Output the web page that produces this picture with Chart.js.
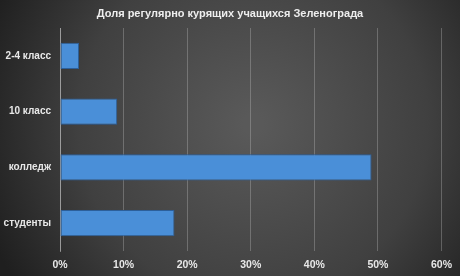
<!DOCTYPE html>
<html>
<head>
<meta charset="utf-8">
<script src="https://cdn.jsdelivr.net/npm/chart.js@4"></script>
<style>
html, body { margin: 0; padding: 0; background: #2b2b2b; }
#wrap { width: 460px; height: 276px; }
</style>
</head>
<body>
<div id="wrap"><canvas id="graph"></canvas></div>
<script>
var labels_groupes = ["2-4 класс", "10 класс", "колледж", "студенты"];
var valeurs = [3, 9, 49, 18];
var ticks_x = [0, 10, 20, 30, 40, 50, 60];
var titre = "Доля регулярно курящих учащихся Зеленограда";

// fond en dégradé radial
var fond = {
    id: "fond",
    beforeDraw: function(chart) {
        var c = chart.ctx;
        var w = chart.width, h = chart.height;
        var g = c.createRadialGradient(w * 0.55, h * 0.45, 10, w * 0.55, h * 0.45, w * 0.62);
        g.addColorStop(0, "#595959");
        g.addColorStop(0.6, "#404040");
        g.addColorStop(1, "#1f1f1f");
        c.save();
        c.fillStyle = g;
        c.fillRect(0, 0, w, h);
        c.restore();
    }
};

// titre centré sur toute la largeur du canvas
var titrePlugin = {
    id: "titrePlugin",
    afterDraw: function(chart) {
        var c = chart.ctx;
        c.save();
        c.font = "bold 11px 'Liberation Sans'";
        c.fillStyle = "#eeeeee";
        c.textAlign = "center";
        c.textBaseline = "middle";
        c.fillText(titre, chart.width / 2, 14);
        c.restore();
    }
};

function couleurBarre(context) {
    var chart = context.chart;
    var area = chart.chartArea;
    var el = context.element;
    if (!area || !el || el.y === undefined) return "#4a8fd8";
    var h = el.height || 25;
    var g = chart.ctx.createLinearGradient(0, el.y - h / 2, 0, el.y + h / 2);
    g.addColorStop(0, "#6cacec");
    g.addColorStop(1, "#3c80d0");
    return g;
}

var ctx = document.getElementById("graph").getContext("2d");

var data = {
    labels: labels_groupes,
    datasets: [{
        data: valeurs,
        backgroundColor: couleurBarre,
        borderColor: "#2c5f9a",
        borderWidth: 1,
        borderSkipped: false,
        barPercentage: 0.47,
        categoryPercentage: 1
    }]
};

var options = {
    indexAxis: "y",
    responsive: true,
    maintainAspectRatio: false,
    animation: false,
    layout: { padding: { top: 28, right: 18, bottom: 0, left: 0 } },
    plugins: {
        legend: { display: false },
        tooltip: { enabled: false },
        title: { display: false }
    },
    scales: {
        x: {
            min: 0,
            max: 60,
            afterBuildTicks: function(axis) {
                axis.ticks = ticks_x.map(function(v) { return { value: v }; });
            },
            afterFit: function(axis) { axis.height = 25; },
            ticks: {
                color: "#e8e8e8",
                font: { family: "Liberation Sans", size: 10.5, weight: "bold" },
                padding: 8,
                callback: function(v) { return v + "%"; }
            },
            grid: {
                color: "rgba(200,200,200,0.32)",
                drawTicks: false
            },
            border: { display: false }
        },
        y: {
            afterFit: function(axis) { axis.width = 60; },
            ticks: {
                color: "#e8e8e8",
                font: { family: "Liberation Sans", size: 10, weight: "bold" },
                padding: 9
            },
            grid: { display: false, drawTicks: false },
            border: { display: true, color: "rgba(210,210,210,0.5)" }
        }
    }
};

var config = {
    type: "bar",
    data: data,
    options: options,
    plugins: [fond, titrePlugin]
};

var graph = new Chart(ctx, config);
</script>
</body>
</html>
